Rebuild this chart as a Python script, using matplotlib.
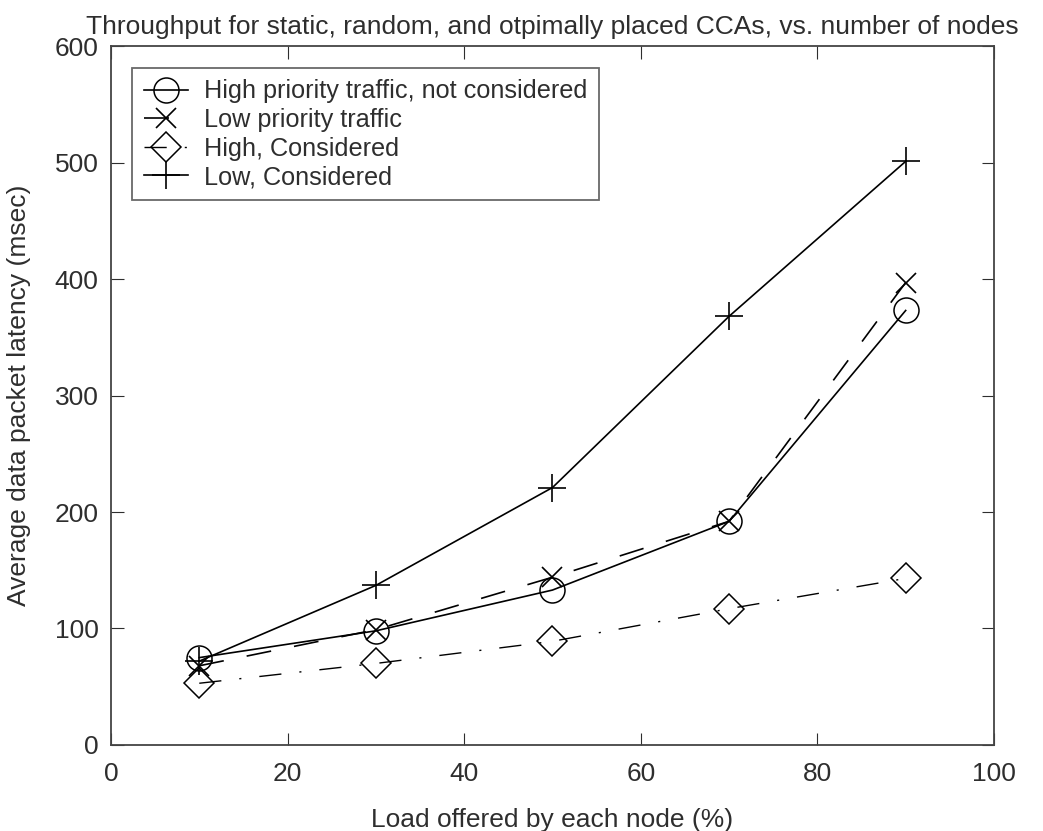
import numpy as np
import matplotlib
matplotlib.use('Agg')
import matplotlib.pyplot as plt

# Data
load = [10, 30, 50, 70, 90]
high_not_considered = [75, 98, 133, 192, 373]
low_priority = [68, 99, 144, 192, 397]
high_considered = [53, 70, 89, 117, 143]
low_considered = [72, 137, 221, 368, 501]

plt.rcParams['font.family'] = ['Liberation Sans', 'DejaVu Sans']
fontsize = 19
ink = '#2e2e2e'

fig = plt.figure(figsize=(10.43, 8.31), dpi=100)
ax = fig.add_axes([0.1064, 0.1035, 0.8466, 0.8411])

ax.plot(load, high_not_considered, color='black', lw=1.2, ls='-',
        marker='o', ms=18, mfc='none', mew=1.1,
        label='High priority traffic, not considered')
ax.plot(load, low_priority, color='black', lw=1.2, ls=(0, (15, 14)),
        marker='x', ms=15, mew=1.2, label='Low priority traffic')
ax.plot(load, high_considered, color='black', lw=1.0, ls=(0, (16, 13, 1.5, 13)),
        marker='D', ms=15, mfc='none', mew=1.1, label='High, Considered')
ax.plot(load, low_considered, color='black', lw=1.2, ls='-',
        marker='+', ms=20, mew=1.2, label='Low, Considered')

ax.set_xlim(0, 100)
ax.set_ylim(0, 600)
ax.set_xticks(np.arange(0, 101, 20))
ax.set_yticks(np.arange(0, 601, 100))
ax.tick_params(direction='in', top=True, right=True, length=9,
               labelsize=fontsize, colors=ink)
ax.tick_params(axis='x', pad=12)
ax.tick_params(axis='y', pad=9)
for s in ax.spines.values():
    s.set_color('#444444')
    s.set_linewidth(1.3)

ax.set_xlabel('Load offered by each node (%)', fontsize=fontsize, color=ink, labelpad=16)
ax.set_ylabel('Average data packet latency (msec)', fontsize=fontsize, color=ink, labelpad=17)
ax.set_title('Throughput for static, random, and otpimally placed CCAs, vs. number of nodes',
             fontsize=fontsize, color=ink, pad=9)

leg = ax.legend(loc='upper left', bbox_to_anchor=(0.024, 0.9685), fontsize=18.2,
                frameon=True, fancybox=False, edgecolor='#444444', handlelength=1.75,
                handletextpad=0.65, borderpad=0.45, labelspacing=0.18, markerscale=1.0,
                borderaxespad=0)
leg.get_frame().set_linewidth(1.3)
for t in leg.get_texts():
    t.set_color(ink)

fig.savefig('out.png', dpi=100)
